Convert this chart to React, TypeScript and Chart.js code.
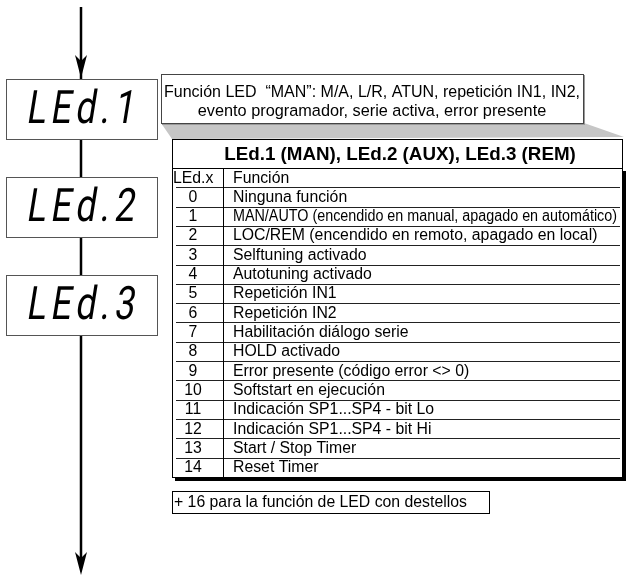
import React, { useEffect, useRef } from "react";
import { Chart, registerables } from "chart.js";

Chart.register(...registerables);

// ---------- data ----------
const ledLabels = ["LEd.1", "LEd.2", "LEd.3"];
const calloutLines = [
  "Función LED  “MAN”: M/A, L/R, ATUN, repetición IN1, IN2,",
  "evento programador, serie activa, error presente",
];
const tableTitle = "LEd.1 (MAN), LEd.2 (AUX), LEd.3 (REM)";
const headerLabels = ["LEd.x", "Función"];
const codes = ["0", "1", "2", "3", "4", "5", "6", "7", "8", "9", "10", "11", "12", "13", "14"];
const functions = [
  "Ninguna función",
  "MAN/AUTO (encendido en manual, apagado en automático)",
  "LOC/REM (encendido en remoto, apagado en local)",
  "Selftuning activado",
  "Autotuning activado",
  "Repetición IN1",
  "Repetición IN2",
  "Habilitación diálogo serie",
  "HOLD activado",
  "Error presente (código error <> 0)",
  "Softstart en ejecución",
  "Indicación SP1...SP4 - bit Lo",
  "Indicación SP1...SP4 - bit Hi",
  "Start / Stop Timer",
  "Reset Timer",
];
const footnote = "+ 16 para la función de LED con destellos";

// ---------- layout (diagram units, mapped through the chart's scales) ----------
const W = 627;
const H = 577;
const FLOW_X = 81;
const FLOW_TOP = 7;
const FLOW_BOTTOM = 575;
const LED_BOX = { x0: 6, x1: 157, tops: [79, 177, 275], height: 60 };
const CALLOUT = { x0: 161, y0: 74, x1: 583, y1: 123 };
const TABLE = { x0: 172, x1: 622, titleTop: 139, bodyTop: 168, bodyBottom: 477, colX: 223 };
const FOOT = { x0: 172, y0: 491, x1: 489, y1: 513 };
const SANS = "'Liberation Sans', Arial, Helvetica, sans-serif";
const BODY_FONT = `15.8px ${SANS}`;

const diagramPlugin = {
  id: "diagram",
  afterDatasetsDraw(chart: any) {
    const ctx: CanvasRenderingContext2D = chart.ctx;
    const xs = chart.scales.x;
    const ys = chart.scales.y;
    const px = (v: number) => xs.getPixelForValue(v);
    const py = (v: number) => ys.getPixelForValue(v);
    const crisp = (v: number) => Math.round(v) + 0.5;

    const rect = (x0: number, y0: number, x1: number, y1: number, fill: string | null, stroke: string | null, lw = 1) => {
      const a = crisp(px(x0)), b = crisp(py(y0)), c = crisp(px(x1)), d = crisp(py(y1));
      if (fill) {
        ctx.fillStyle = fill;
        ctx.fillRect(a, b, c - a, d - b);
      }
      if (stroke) {
        ctx.strokeStyle = stroke;
        ctx.lineWidth = lw;
        ctx.strokeRect(a, b, c - a, d - b);
      }
    };
    const hline = (x0: number, x1: number, y: number, color: string) => {
      ctx.strokeStyle = color;
      ctx.lineWidth = 1;
      ctx.beginPath();
      ctx.moveTo(px(x0), crisp(py(y)));
      ctx.lineTo(px(x1), crisp(py(y)));
      ctx.stroke();
    };
    const arrowHead = (x: number, tipY: number) => {
      ctx.fillStyle = "#000";
      ctx.beginPath();
      ctx.moveTo(px(x), py(tipY));
      ctx.lineTo(px(x - 6), py(tipY - 23));
      ctx.lineTo(px(x), py(tipY - 17));
      ctx.lineTo(px(x + 6), py(tipY - 23));
      ctx.closePath();
      ctx.fill();
    };

    ctx.save();

    // arrow heads
    arrowHead(FLOW_X, LED_BOX.tops[0] - 1);
    arrowHead(FLOW_X, FLOW_BOTTOM);

    // LED display boxes
    ledLabels.forEach((label, i) => {
      const top = LED_BOX.tops[i];
      const bottom = top + LED_BOX.height;
      rect(LED_BOX.x0, top, LED_BOX.x1, bottom, "#fff", "#555");
      ctx.save();
      ctx.translate(px(FLOW_X + 1), py(top + 44));
      ctx.transform(0.78, 0, -0.16, 1, 0, 0);
      ctx.font = `400 46px Roboto, 'DejaVu Sans', sans-serif`;
      (ctx as any).letterSpacing = "6px";
      ctx.fillStyle = "#000";
      ctx.textAlign = "center";
      ctx.textBaseline = "alphabetic";
      ctx.fillText(label, 0, 0);
      ctx.restore();
    });

    // gray wedge linking callout and table
    ctx.fillStyle = "#c6c6c6";
    ctx.beginPath();
    ctx.moveTo(px(CALLOUT.x0), py(CALLOUT.y1));
    ctx.lineTo(px(CALLOUT.x1 + 1), py(CALLOUT.y1));
    ctx.lineTo(px(TABLE.x1 + 2), py(TABLE.titleTop - 2));
    ctx.lineTo(px(TABLE.x0), py(TABLE.titleTop));
    ctx.closePath();
    ctx.fill();

    // callout box
    rect(CALLOUT.x0 + 1, CALLOUT.y0 + 1, CALLOUT.x1 + 1, CALLOUT.y1 + 1, null, "#999");
    rect(CALLOUT.x0, CALLOUT.y0, CALLOUT.x1, CALLOUT.y1, "#fff", "#444");
    ctx.fillStyle = "#000";
    ctx.font = `16.3px ${SANS}`;
    ctx.textAlign = "center";
    ctx.textBaseline = "middle";
    const cmx = px((CALLOUT.x0 + CALLOUT.x1) / 2);
    calloutLines.forEach((line, i) => {
      ctx.fillText(line, cmx, py(CALLOUT.y0 + 19 + i * 19), px(CALLOUT.x1 - 3) - px(CALLOUT.x0 + 3));
    });

    // table title
    rect(TABLE.x0, TABLE.titleTop, TABLE.x1, TABLE.bodyTop, "#fff", "#000");
    ctx.font = `bold 18.8px ${SANS}`;
    ctx.fillStyle = "#000";
    ctx.textAlign = "center";
    ctx.textBaseline = "middle";
    ctx.fillText(tableTitle, px((TABLE.x0 + TABLE.x1) / 2 + 3), py((TABLE.titleTop + TABLE.bodyTop) / 2 + 1));

    // table body with shadow
    ctx.fillStyle = "#000";
    ctx.fillRect(px(TABLE.x0 + 3), py(TABLE.bodyTop + 3), px(TABLE.x1 + 4) - px(TABLE.x0 + 3), py(TABLE.bodyBottom + 4) - py(TABLE.bodyTop + 3));
    rect(TABLE.x0, TABLE.bodyTop, TABLE.x1, TABLE.bodyBottom, "#fff", "#000");

    const nRows = codes.length + 1;
    const rowH = (TABLE.bodyBottom - TABLE.bodyTop) / nRows;
    for (let k = 1; k < nRows; k++) {
      hline(TABLE.x0 + 4, TABLE.x1 - 2, TABLE.bodyTop + rowH * k, "#222");
    }
    ctx.strokeStyle = "#000";
    ctx.beginPath();
    ctx.moveTo(crisp(px(TABLE.colX)), py(TABLE.bodyTop));
    ctx.lineTo(crisp(px(TABLE.colX)), py(TABLE.bodyBottom));
    ctx.stroke();

    ctx.font = BODY_FONT;
    ctx.fillStyle = "#000";
    ctx.textBaseline = "middle";
    const rowY = (i: number) => py(TABLE.bodyTop + rowH * (i + 0.5) + 0.5);
    const textX = px(TABLE.colX + 10);
    const maxW = px(TABLE.x1 - 5) - textX;
    ctx.textAlign = "left";
    ctx.fillText(headerLabels[0], px(TABLE.x0 + 1), rowY(0), px(TABLE.colX - 2) - px(TABLE.x0 + 1));
    ctx.fillText(headerLabels[1], textX, rowY(0));
    codes.forEach((code, i) => {
      ctx.textAlign = "center";
      ctx.fillText(code, px(193), rowY(i + 1));
      ctx.textAlign = "left";
      ctx.fillText(functions[i], textX, rowY(i + 1), maxW);
    });

    // footnote
    rect(FOOT.x0, FOOT.y0, FOOT.x1, FOOT.y1, "#fff", "#000");
    ctx.fillStyle = "#000";
    ctx.font = BODY_FONT;
    ctx.textAlign = "left";
    ctx.textBaseline = "middle";
    ctx.fillText(footnote, px(FOOT.x0 + 2), py((FOOT.y0 + FOOT.y1) / 2 + 0.5), px(FOOT.x1 - 3) - px(FOOT.x0 + 2));

    ctx.restore();
  },
};

export default function App() {
  const canvasRef = useRef<HTMLCanvasElement | null>(null);

  useEffect(() => {
    if (!canvasRef.current) return;
    const chart = new Chart(canvasRef.current, {
      type: "scatter",
      data: {
        datasets: [
          {
            data: [
              { x: FLOW_X, y: FLOW_TOP },
              { x: FLOW_X, y: FLOW_BOTTOM - 10 },
            ],
            showLine: true,
            borderColor: "#000",
            borderWidth: 2.5,
            pointRadius: 0,
          },
        ],
      },
      options: {
        responsive: false,
        animation: false,
        devicePixelRatio: 1,
        layout: { padding: 0 },
        scales: {
          x: { type: "linear", min: 0, max: W, display: false },
          y: { type: "linear", min: 0, max: H, reverse: true, display: false },
        },
        plugins: { legend: { display: false }, tooltip: { enabled: false }, title: { display: false } },
      },
      plugins: [diagramPlugin],
    } as any);
    return () => chart.destroy();
  }, []);

  return (
    <div style={{ position: "fixed", left: 0, top: 0, width: W, height: H, background: "#fff" }}>
      <canvas ref={canvasRef} width={W} height={H} style={{ display: "block" }} />
    </div>
  );
}
